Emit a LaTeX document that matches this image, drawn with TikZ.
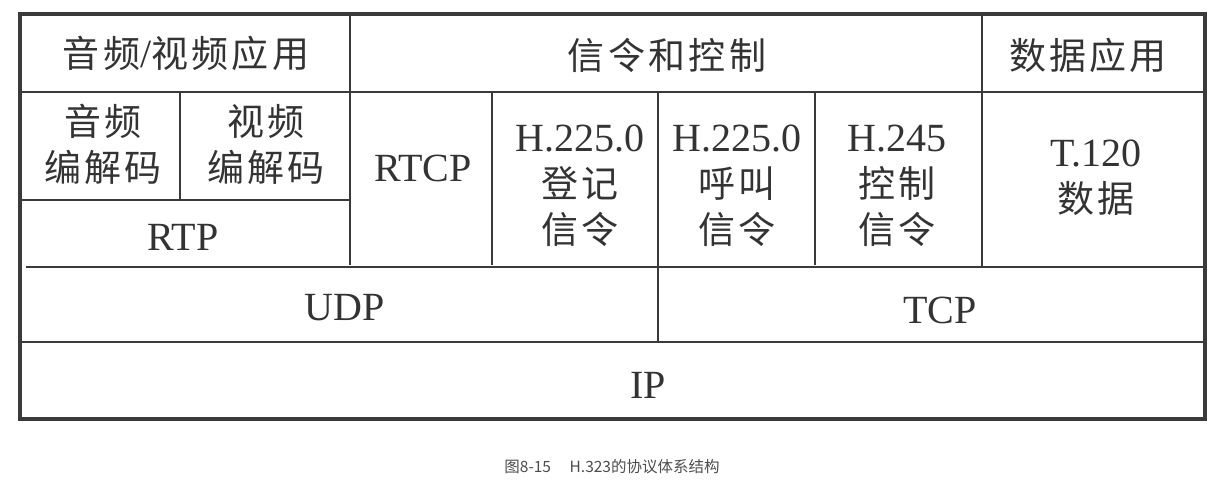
\documentclass[tikz,border=0pt]{standalone}
\usepackage{fontspec}
\setmainfont{Liberation Serif}
\newfontfamily\cjk[LetterSpace=9]{Noto Sans CJK SC}
\newfontfamily\capfont{Noto Sans CJK SC}
\definecolor{rule}{HTML}{3A3A3A}
\definecolor{ink}{HTML}{333333}
\newcommand{\zh}[1]{{\fontsize{37}{46}\selectfont\cjk #1}}

\begin{document}
\begin{tikzpicture}[x=1pt,y=-1pt,
  cell/.style={align=center,inner sep=0pt,text=ink,font=\fontsize{40}{46}\selectfont},
  frame/.style={draw=rule,line width=3.4pt},
  sep/.style={draw=rule,line width=2.6pt}]
\useasboundingbox (0,0) rectangle (1224,481);
% outer frame and the rules between the rows
\draw[frame] (20,14) rectangle (1205,419);
\draw[sep] (20,92) -- (1205,92);
\draw[sep] (20,200) -- (350,200);
\draw[sep] (26,267) -- (1205,267);
\draw[sep] (20,342) -- (1205,342);
\draw[sep] (350,14) -- (350,265) (982,14) -- (982,267) (180,92) -- (180,200);
\foreach \x in {492,815}{\draw[sep] (\x,92) -- (\x,265);}
\draw[sep] (658,92) -- (658,342);
% row 1: the three kinds of application
\node[cell] (av) at (186,53) {\zh{音频}/\zh{视频应用}};
\node[cell] (sig) at (667,55) {\zh{信令和控制}};
\node[cell] (data) at (1088,55) {\zh{数据应用}};
% row 2: codecs, RTP, RTCP and the signalling
\node[cell] (acodec) at (103,144) {\zh{音频}\\\zh{编解码}};
\node[cell] (vcodec) at (266,144) {\zh{视频}\\\zh{编解码}};
\node[cell] (rtp) at (183,237) {RTP};
\node[cell] (rtcp) at (423,168) {RTCP};
\foreach \x/\h/\a/\n in {580/H.225.0/登记/ras, 737/H.225.0/呼叫/call, 897/H.245/控制/ctrl}{
  \node[cell] (\n) at (\x,186) {\h\\\zh{\a}\\\zh{信令}};}
\node[cell] (t120) at (1096,178) {T.120\\\zh{数据}};
% rows 3 and 4: transport and network
\node[cell] (udp) at (345,308) {UDP};
\node[cell] (tcp) at (940,310) {TCP};
\node[cell] (ip) at (648,385) {IP};
% caption
\node[text=black!70,inner sep=0pt,font=\capfont\fontsize{15.5}{17}\selectfont] (cap) at (612,467) {图8-15\hspace{1.2em}H.323的协议体系结构};
\end{tikzpicture}
\end{document}
